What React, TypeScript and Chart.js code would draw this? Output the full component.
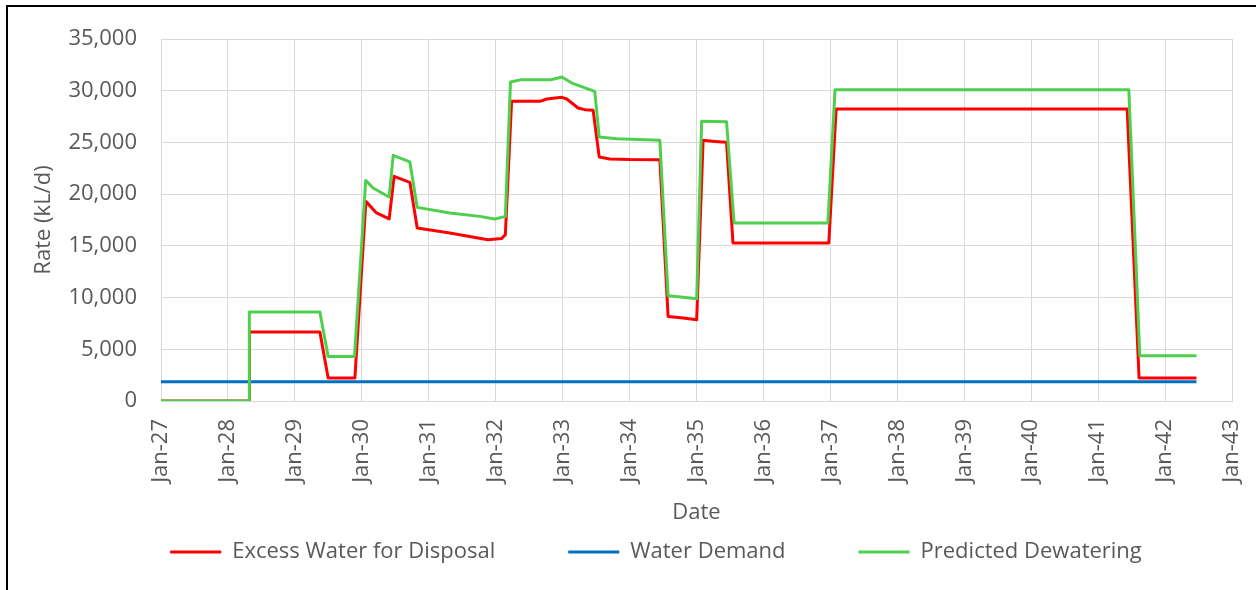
import React, { useEffect, useRef } from "react";
import { Chart, registerables } from "chart.js";

Chart.register(...registerables);

// ---- Data ----
const excessDates = [
  "2027-01-01", "2028-04-26", "2028-04-28", "2029-05-17", "2029-07-01", "2029-11-24",
  "2030-01-23", "2030-03-22", "2030-05-30", "2030-06-26", "2030-09-20", "2030-10-30",
  "2031-04-26", "2031-11-20", "2032-02-02", "2032-02-23", "2032-03-28", "2032-08-30",
  "2032-10-06", "2032-12-27", "2033-01-23", "2033-03-26", "2033-05-02", "2033-06-16",
  "2033-07-19", "2033-09-15", "2034-01-03", "2034-06-15", "2034-07-30", "2034-10-20",
  "2035-01-02", "2035-02-06", "2035-04-11", "2035-06-14", "2035-07-19", "2036-12-23",
  "2037-02-01", "2041-06-08", "2041-08-12", "2042-06-21",
];
const excessValues = [
  0, 0, 6670, 6670, 2220, 2220,
  19300, 18180, 17600, 21720, 21140, 16730,
  16250, 15600, 15700, 16080, 28970, 28970,
  29200, 29360, 29200, 28330, 28170, 28100,
  23600, 23400, 23340, 23330, 8180, 8020,
  7860, 25200, 25100, 25010, 15280, 15280,
  28230, 28230, 2220, 2220,
];

const dewateringDates = [
  "2027-01-01", "2028-04-26", "2028-04-27", "2029-05-17", "2029-07-01", "2029-11-22",
  "2030-01-22", "2030-03-03", "2030-05-30", "2030-06-21", "2030-09-20", "2030-10-30",
  "2031-04-26", "2031-10-06", "2031-12-27", "2032-02-23", "2032-03-22", "2032-05-21",
  "2032-11-01", "2032-12-27", "2033-02-27", "2033-06-25", "2033-07-19", "2033-10-22",
  "2034-06-15", "2034-07-30", "2034-10-20", "2035-01-02", "2035-01-29", "2035-06-14",
  "2035-07-25", "2036-12-18", "2037-01-26", "2041-06-17", "2041-08-16", "2042-06-21",
];
const dewateringValues = [
  0, 0, 8600, 8600, 4310, 4310,
  21330, 20600, 19730, 23750, 23110, 18720,
  18180, 17850, 17600, 17850, 30850, 31070,
  31070, 31330, 30680, 29940, 25530, 25360,
  25200, 10180, 10020, 9890, 27040, 27000,
  17210, 17210, 30100, 30100, 4380, 4380,
];

const demandDates = ["2027-01-01", "2042-06-21"];
const demandValues = [1850, 1850];

const tickYears = [
  2027, 2028, 2029, 2030, 2031, 2032, 2033, 2034, 2035,
  2036, 2037, 2038, 2039, 2040, 2041, 2042, 2043,
];
const monthNames = ["Jan", "Feb", "Mar", "Apr", "May", "Jun", "Jul", "Aug", "Sep", "Oct", "Nov", "Dec"];

const seriesNames = ["Excess Water for Disposal", "Water Demand", "Predicted Dewatering"];
const seriesColors = ["#FF0000", "#0070C0", "#4ED04E"];

// ---- Helpers ----
const toMs = (s: string) => {
  const [y, m, d] = s.split("-").map(Number);
  return Date.UTC(y, m - 1, d);
};
const toPoints = (dates: string[], values: number[]) =>
  dates.map((d, i) => ({ x: toMs(d), y: values[i] }));

const FONT = "'Open Sans', 'Noto Sans', sans-serif";
const FS = 22;
const TEXT = "#595959";
const GRID = "#d9d9d9";

const LEGEND_PAD = 73;
const LEGEND_CENTER_Y = 552;
const LEGEND_DX = 40;

const legendPlacer = {
  id: "legendPlacer",
  afterLayout(chart: any) {
    const lg = chart.legend;
    if (!lg) return;
    lg.top = LEGEND_CENTER_Y - LEGEND_PAD - FS / 2;
    lg.left += LEGEND_DX;
    lg.right += LEGEND_DX;
  },
};

export default function App() {
  const ref = useRef<HTMLCanvasElement | null>(null);

  useEffect(() => {
    if (!ref.current) return;
    const lineBase = {
      pointRadius: 0,
      pointHoverRadius: 0,
      borderWidth: 3,
      tension: 0,
      fill: false,
      borderJoinStyle: "round" as const,
      borderCapStyle: "butt" as const,
    };
    const chart = new Chart(ref.current, {
      type: "line",
      data: {
        datasets: [
          {
            ...lineBase,
            label: seriesNames[0],
            data: toPoints(excessDates, excessValues),
            borderColor: seriesColors[0],
            backgroundColor: seriesColors[0],
            order: 3,
          },
          {
            ...lineBase,
            label: seriesNames[1],
            data: toPoints(demandDates, demandValues),
            borderColor: seriesColors[1],
            backgroundColor: seriesColors[1],
            order: 2,
          },
          {
            ...lineBase,
            label: seriesNames[2],
            data: toPoints(dewateringDates, dewateringValues),
            borderColor: seriesColors[2],
            backgroundColor: seriesColors[2],
            order: 1,
          },
        ],
      },
      options: {
        responsive: false,
        animation: false,
        devicePixelRatio: 1,
        parsing: false,
        normalized: true,
        events: [],
        layout: { padding: { top: 39, right: 24, bottom: 0, left: 0 } },
        plugins: {
          tooltip: { enabled: false },
          legend: {
            position: "bottom",
            maxHeight: 63,
            labels: {
              usePointStyle: true,
              pointStyle: "line",
              pointStyleWidth: 51,
              padding: LEGEND_PAD,
              color: TEXT,
              font: { family: FONT, size: FS },
              sort: (a: any, b: any) => a.datasetIndex - b.datasetIndex,
            },
          },
        },
        scales: {
          x: {
            type: "linear",
            min: toMs("2027-01-01"),
            max: toMs("2043-01-01"),
            afterBuildTicks: (s: any) => {
              s.ticks = tickYears.map((y) => ({ value: Date.UTC(y, 0, 1) }));
            },
            afterFit: (s: any) => {
              s.height = 126;
              s.paddingLeft = 0;
              s.paddingRight = 0;
            },
            ticks: {
              autoSkip: false,
              maxRotation: 90,
              minRotation: 90,
              padding: 18,
              color: TEXT,
              font: { family: FONT, size: FS },
              callback: (v: any) => {
                const d = new Date(Number(v));
                return `${monthNames[d.getUTCMonth()]}-${String(d.getUTCFullYear() % 100).padStart(2, "0")}`;
              },
            },
            grid: { color: GRID, lineWidth: 1, drawTicks: false },
            border: { color: GRID, width: 1 },
            title: {
              display: true,
              text: "Date",
              color: TEXT,
              font: { family: FONT, size: FS },
              padding: { top: 0, bottom: 1 },
            },
          },
          y: {
            type: "linear",
            min: 0,
            max: 35000,
            afterFit: (s: any) => {
              s.width = 161;
            },
            ticks: {
              stepSize: 5000,
              padding: 24,
              color: TEXT,
              font: { family: FONT, size: FS },
              callback: (v: any) => Number(v).toLocaleString("en-US"),
            },
            grid: { color: GRID, lineWidth: 1, drawTicks: false },
            border: { color: GRID, width: 1 },
            title: {
              display: true,
              text: "Rate (kL/d)",
              color: TEXT,
              font: { family: FONT, size: FS },
              padding: { top: 31, bottom: 0 },
            },
          },
        },
      },
      plugins: [legendPlacer],
    });
    return () => chart.destroy();
  }, []);

  return (
    <div
      style={{
        position: "fixed",
        top: 0,
        left: 0,
        width: 1256,
        height: 590,
        overflow: "hidden",
        background: "#ffffff",
      }}
    >
      <div
        style={{
          position: "absolute",
          top: 5,
          left: 6,
          width: 1400,
          height: 800,
          borderTop: "2px solid #000",
          borderLeft: "2px solid #000",
          boxSizing: "border-box",
        }}
      />
      <canvas
        ref={ref}
        width={1256}
        height={590}
        style={{ position: "absolute", top: 0, left: 0, width: 1256, height: 590 }}
      />
    </div>
  );
}
